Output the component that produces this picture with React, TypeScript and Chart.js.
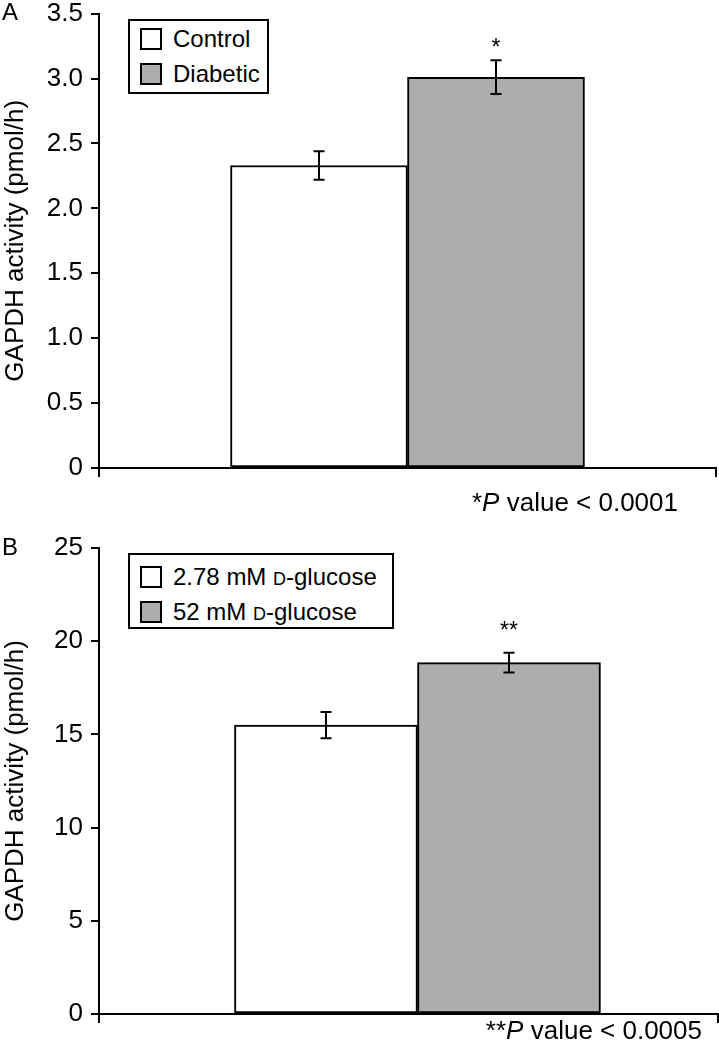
import React, { useEffect, useRef } from "react";
import { Chart, registerables } from "chart.js";

Chart.register(...registerables);

// ---------- data ----------
const panelACategories = ["Control", "Diabetic"];
const panelAValues = [2.33, 3.01];
const panelAErrors = [0.11, 0.13];
const panelASignificance = ["", "*"];
const panelATicks = [0, 0.5, 1.0, 1.5, 2.0, 2.5, 3.0, 3.5];
const panelANote = "P value < 0.0001";
const panelANoteStars = "*";

const panelBCategories = ["2.78 mM D-glucose", "52 mM D-glucose"];
const panelBValues = [15.5, 18.85];
const panelBErrors = [0.7, 0.53];
const panelBSignificance = ["", "**"];
const panelBTicks = [0, 5, 10, 15, 20, 25];
const panelBNote = "P value < 0.0005";
const panelBNoteStars = "**";

const xEdgeTicks = [0, 1];
const yTitle = "GAPDH activity (pmol/h)";

// ---------- styles ----------
const FONT = "'Liberation Sans', Arial, Helvetica, sans-serif";
const barColors = ["#ffffff", "#adadad"];

const errorBarPlugin = {
  id: "errorBars",
  afterDatasetsDraw(chart: any, _args: any, opts: any) {
    const ctx = chart.ctx;
    const yScale = chart.scales.y;
    const errors: number[] = opts.errors || [];
    const sig: string[] = opts.sig || [];
    ctx.save();
    chart.data.datasets.forEach((ds: any, i: number) => {
      const meta = chart.getDatasetMeta(i);
      const bar = meta.data[0];
      if (!bar) return;
      const v = ds.data[0].y;
      const e = errors[i] || 0;
      const x = Math.round(bar.x);
      const yTop = yScale.getPixelForValue(v + e);
      const yBot = yScale.getPixelForValue(v - e);
      ctx.strokeStyle = "#000";
      ctx.lineWidth = 2;
      ctx.beginPath();
      ctx.moveTo(x, yTop);
      ctx.lineTo(x, yBot);
      ctx.moveTo(x - 5.5, yTop);
      ctx.lineTo(x + 5.5, yTop);
      ctx.moveTo(x - 5.5, yBot);
      ctx.lineTo(x + 5.5, yBot);
      ctx.stroke();
      if (sig[i]) {
        ctx.fillStyle = "#000";
        ctx.font = `23px ${FONT}`;
        ctx.textAlign = "center";
        ctx.textBaseline = "alphabetic";
        ctx.fillText(sig[i], x, yTop - (opts.sigGap || 6));
      }
    });
    ctx.restore();
  },
};

function makeConfig(
  categories: string[],
  values: number[],
  errors: number[],
  sig: string[],
  ticks: number[],
  fmt: (v: number) => string,
  layout: {
    padTop: number;
    padRight: number;
    xHeight: number;
    sigGap: number;
    center: number;
    thickness: number;
  }
): any {
  return {
    type: "bar",
    data: {
      datasets: categories.map((c, i) => ({
        label: c,
        data: [{ x: layout.center, y: values[i] }],
        backgroundColor: barColors[i],
        borderColor: "#000",
        borderWidth: 2,
        borderSkipped: false,
        barThickness: layout.thickness,
      })),
    },
    options: {
      responsive: false,
      animation: false,
      devicePixelRatio: 1,
      layout: {
        padding: { left: 0, right: layout.padRight, top: layout.padTop, bottom: 0 },
      },
      plugins: {
        legend: { display: false },
        tooltip: { enabled: false },
        errorBars: { errors, sig, sigGap: layout.sigGap },
      },
      scales: {
        x: {
          type: "linear",
          min: xEdgeTicks[0],
          max: xEdgeTicks[xEdgeTicks.length - 1],
          offset: false,
          afterBuildTicks(scale: any) {
            scale.ticks = xEdgeTicks.map((v) => ({ value: v }));
          },
          grid: {
            offset: false,
            drawOnChartArea: false,
            drawTicks: true,
            tickLength: 9,
            color: "#000",
            lineWidth: 2,
          },
          border: { display: true, color: "#000", width: 2 },
          ticks: { display: false },
          afterFit(scale: any) {
            scale.height = layout.xHeight;
          },
        },
        y: {
          min: ticks[0],
          max: ticks[ticks.length - 1],
          afterBuildTicks(scale: any) {
            scale.ticks = ticks.map((v) => ({ value: v }));
          },
          afterFit(scale: any) {
            scale.width = 99;
          },
          grid: {
            drawOnChartArea: false,
            drawTicks: true,
            tickLength: 8,
            color: "#000",
            lineWidth: 2,
          },
          border: { display: true, color: "#000", width: 2 },
          ticks: {
            color: "#000",
            padding: 8,
            font: { family: FONT, size: 26 },
            callback: (v: any) => fmt(Number(v)),
          },
          title: {
            display: true,
            text: yTitle,
            color: "#000",
            padding: { top: 0, bottom: 0 },
            font: { family: FONT, size: 26 },
          },
        },
      },
    },
    plugins: [errorBarPlugin],
  };
}

function ChartCanvas({ config, width, height, top }: any) {
  const ref = useRef<HTMLCanvasElement | null>(null);
  useEffect(() => {
    if (!ref.current) return;
    const chart = new Chart(ref.current, config);
    return () => chart.destroy();
  }, []);
  return (
    <canvas
      ref={ref}
      width={width}
      height={height}
      style={{ position: "absolute", left: 0, top, width, height }}
    />
  );
}

function Legend({ labels, left, top, width, height, padTop }: any) {
  return (
    <div
      style={{
        position: "absolute",
        left,
        top,
        width,
        height,
        boxSizing: "border-box",
        border: "2px solid #000",
        background: "#fff",
        fontFamily: FONT,
        fontSize: 24,
        color: "#000",
        paddingLeft: 10,
        paddingTop: padTop,
      }}
    >
      {labels.map((l: any, i: number) => (
        <div
          key={i}
          style={{ display: "flex", alignItems: "center", height: 35 }}
        >
          <span
            style={{
              display: "inline-block",
              width: 22,
              height: 22,
              boxSizing: "border-box",
              border: "2px solid #000",
              background: barColors[i],
              marginRight: 11,
            }}
          />
          <span style={{ whiteSpace: "nowrap" }}>{l}</span>
        </div>
      ))}
    </div>
  );
}

function glucoseLabel(text: string) {
  const idx = text.indexOf("D-");
  if (idx < 0) return text;
  return (
    <>
      {text.slice(0, idx)}
      <span style={{ fontSize: 18 }}>D</span>
      {text.slice(idx + 1)}
    </>
  );
}

export default function App() {
  const cfgA = makeConfig(
    panelACategories,
    panelAValues,
    panelAErrors,
    panelASignificance,
    panelATicks,
    (v) => (v === 0 ? "0" : v.toFixed(1)),
    { padTop: 23, padRight: 3, xHeight: 52, sigGap: 5, center: 0.5, thickness: 177 }
  );
  const cfgB = makeConfig(
    panelBCategories,
    panelBValues,
    panelBErrors,
    panelBSignificance,
    panelBTicks,
    (v) => String(v),
    { padTop: 28, padRight: 1, xHeight: 36, sigGap: 15, center: 0.5145, thickness: 183 }
  );
  const noteStyle: any = {
    position: "absolute",
    fontFamily: FONT,
    fontSize: 26,
    color: "#000",
    whiteSpace: "nowrap",
    textAlign: "right",
  };
  const panelLabel: any = {
    position: "absolute",
    fontFamily: FONT,
    fontSize: 24,
    color: "#000",
    left: 2,
  };
  return (
    <div
      style={{
        position: "absolute",
        left: 0,
        top: 0,
        width: 719,
        height: 1050,
        background: "#fff",
        overflow: "hidden",
      }}
    >
      <ChartCanvas config={cfgA} width={719} height={530} top={-10} />
      <ChartCanvas config={cfgB} width={719} height={530} top={520} />
      <div style={{ ...panelLabel, top: -2 }}>A</div>
      <div style={{ ...panelLabel, top: 533 }}>B</div>
      <Legend
        labels={panelACategories}
        left={128}
        top={19}
        width={141}
        height={75}
        padTop={0}
      />
      <Legend
        labels={panelBCategories.map(glucoseLabel)}
        left={128}
        top={553}
        width={266}
        height={76}
        padTop={4}
      />
      <div style={{ ...noteStyle, right: 41, top: 487 }}>
        {panelANoteStars}
        <i>P</i> {panelANote.slice(2)}
      </div>
      <div style={{ ...noteStyle, right: 17, top: 1015 }}>
        {panelBNoteStars}
        <i>P</i> {panelBNote.slice(2)}
      </div>
    </div>
  );
}
